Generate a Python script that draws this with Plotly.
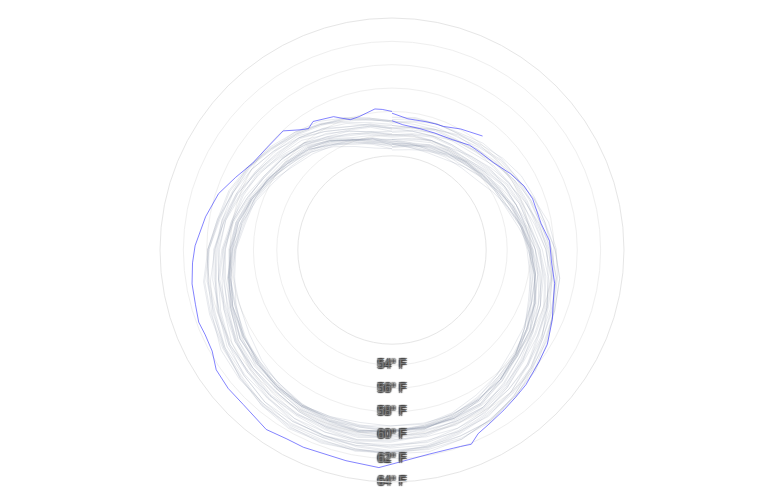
import plotly.graph_objects as go

# ---- data ----
grey_days = [0, 10, 20, 30, 41, 51, 61, 71, 81, 91, 101, 112, 122, 132, 142, 152, 162, 172, 183,
             193, 203, 213, 223, 233, 243, 254, 264, 274, 284, 294, 304, 314, 325, 335, 345, 355, 365]

# band-centre climatology (deg F) at grey_days
climatology = [54.2, 54.25, 54.4, 54.6, 54.85, 55.15, 55.5, 55.95, 56.45, 57.0, 57.5, 58.0, 58.5,
               59.0, 59.5, 60.0, 60.3, 60.5, 60.6, 60.65, 60.65, 60.6, 60.4, 60.15, 59.9, 59.5,
               59.2, 58.8, 58.3, 57.8, 57.3, 56.75, 56.2, 55.6, 55.05, 54.6, 54.2]

grey_years = [1942, 1944, 1946, 1950, 1952, 1954, 1958, 1960, 1962, 1966, 1968, 1970, 1974, 1976,
              1978, 1982, 1984, 1986, 1990, 1992, 1994, 1998, 2000, 2002, 2006, 2008, 2010, 2014,
              2016, 2018, 2020, 2022]

# departures from the band centre for each grey year (deg F)
a1942 = [-1.2,-1.0,-0.9,-1.1,-1.3,-1.2,-1.0,-0.8,-0.9,-1.1,-1.3,-1.4,-1.2,-1.0,-0.9,-1.0,-1.2,-1.1,-0.9,-0.8,-1.0,-1.2,-1.3,-1.1,-1.0,-1.2,-1.4,-1.3,-1.1,-0.9,-1.0,-1.2,-1.1,-0.9,-1.0,-1.2,-1.1]
a1944 = [-1.0,-1.2,-1.3,-1.1,-0.9,-1.0,-1.2,-1.3,-1.1,-1.0,-1.2,-1.1,-0.9,-1.0,-1.2,-1.3,-1.1,-0.9,-1.0,-1.2,-1.3,-1.1,-1.0,-1.2,-1.1,-0.9,-1.0,-1.2,-1.3,-1.1,-1.2,-1.0,-0.9,-1.1,-1.3,-1.2,-1.2]
a1946 = [-1.0,-1.2,-1.4,-1.5,-1.3,-1.1,-1.2,-1.4,-1.3,-1.0,-0.9,-1.1,-1.3,-1.5,-1.4,-1.2,-1.1,-1.3,-1.4,-1.2,-1.0,-1.1,-1.3,-1.2,-1.0,-0.9,-1.1,-1.3,-1.4,-1.2,-1.3,-1.5,-1.4,-1.2,-1.1,-1.3,-1.4]
a1950 = [-1.5,-1.4,-1.2,-1.3,-1.5,-1.6,-1.4,-1.2,-1.1,-1.3,-1.4,-1.2,-1.0,-1.2,-1.4,-1.5,-1.3,-1.2,-1.4,-1.5,-1.3,-1.1,-1.2,-1.4,-1.6,-1.5,-1.3,-1.2,-1.1,-1.3,-1.5,-1.4,-1.2,-1.3,-1.5,-1.6,-1.4]
a1952 = [-1.2,-1.0,-0.8,-0.9,-1.1,-0.9,-0.7,-0.8,-1.0,-1.1,-0.9,-0.8,-1.0,-1.1,-0.9,-0.7,-0.9,-1.1,-1.0,-0.8,-0.9,-1.1,-1.0,-0.8,-0.7,-0.9,-1.1,-1.0,-0.8,-0.9,-1.1,-1.2,-1.0,-0.8,-0.9,-1.1,-1.0]
a1954 = [-1.3,-1.1,-0.9,-0.8,-1.0,-1.2,-1.1,-0.9,-1.0,-1.2,-1.0,-0.8,-0.9,-1.1,-1.2,-1.0,-0.8,-0.9,-1.1,-1.3,-1.2,-1.0,-0.9,-1.0,-1.2,-1.1,-0.9,-0.8,-1.0,-1.1,-0.9,-1.0,-1.2,-1.1,-0.9,-1.0,-1.0]
a1958 = [-0.6,-0.8,-1.0,-0.9,-0.7,-0.6,-0.8,-1.0,-1.1,-0.9,-0.7,-0.8,-1.0,-0.9,-0.7,-0.6,-0.8,-1.0,-0.9,-0.7,-0.8,-1.0,-1.1,-0.9,-0.7,-0.6,-0.8,-0.9,-0.7,-0.8,-1.0,-0.9,-0.7,-0.6,-0.8,-0.9,-0.9]
a1960 = [-1.0,-0.9,-0.7,-0.6,-0.8,-1.0,-0.9,-0.7,-0.8,-1.0,-0.9,-0.7,-0.6,-0.8,-0.9,-0.7,-0.8,-1.0,-0.9,-0.7,-0.6,-0.8,-1.0,-0.9,-0.7,-0.8,-0.9,-0.7,-0.6,-0.8,-1.0,-0.9,-0.7,-0.8,-0.9,-0.7,-0.8]
a1962 = [-1.0,-0.8,-0.7,-0.9,-1.1,-1.0,-0.8,-0.9,-1.1,-1.2,-1.0,-0.9,-0.7,-0.8,-1.0,-1.1,-0.9,-0.8,-1.0,-1.1,-0.9,-0.7,-0.8,-1.0,-1.1,-0.9,-0.8,-1.0,-1.2,-1.1,-0.9,-0.8,-0.9,-1.1,-1.0,-0.8,-1.1]
a1966 = [-0.9,-1.1,-1.2,-1.0,-0.8,-0.9,-1.1,-1.2,-1.0,-0.9,-1.1,-1.3,-1.2,-1.0,-0.9,-1.1,-1.2,-1.0,-0.8,-0.9,-1.1,-1.2,-1.0,-0.9,-1.1,-1.2,-1.0,-0.9,-0.8,-1.0,-1.2,-1.1,-0.9,-1.0,-1.2,-1.1,-0.8]
a1968 = [-0.8,-0.9,-1.1,-1.0,-0.8,-0.7,-0.9,-1.0,-0.8,-0.6,-0.7,-0.9,-1.0,-0.8,-0.7,-0.9,-1.0,-0.8,-0.6,-0.7,-0.9,-1.0,-0.8,-0.7,-0.9,-1.1,-1.0,-0.8,-0.7,-0.9,-1.0,-0.8,-0.6,-0.7,-0.9,-0.8,-0.7]
a1970 = [-0.8,-0.6,-0.5,-0.7,-0.9,-0.8,-0.6,-0.5,-0.7,-0.8,-0.6,-0.5,-0.7,-0.9,-0.8,-0.6,-0.7,-0.9,-0.8,-0.6,-0.5,-0.7,-0.8,-0.6,-0.5,-0.7,-0.9,-0.8,-0.6,-0.7,-0.8,-0.6,-0.5,-0.7,-0.9,-0.8,-0.9]
a1974 = [-0.9,-1.0,-0.8,-0.7,-0.9,-1.1,-1.0,-0.8,-0.7,-0.9,-1.0,-0.8,-0.7,-0.9,-1.1,-1.0,-0.8,-0.9,-1.0,-0.8,-0.7,-0.9,-1.1,-1.0,-0.8,-0.7,-0.9,-1.0,-0.8,-0.9,-1.1,-1.0,-0.8,-0.7,-0.9,-1.0,-0.6]
a1976 = [-0.7,-0.9,-1.1,-1.2,-1.0,-0.9,-1.1,-1.2,-1.0,-0.8,-0.9,-1.1,-1.2,-1.0,-0.9,-1.1,-1.0,-0.8,-0.9,-1.1,-1.2,-1.0,-0.9,-1.1,-1.0,-0.8,-0.9,-1.1,-1.0,-0.8,-0.9,-1.0,-0.8,-0.7,-0.9,-0.8,-0.6]
a1978 = [-0.6,-0.4,-0.3,-0.5,-0.7,-0.6,-0.4,-0.5,-0.7,-0.6,-0.4,-0.3,-0.5,-0.6,-0.4,-0.3,-0.5,-0.7,-0.6,-0.4,-0.3,-0.5,-0.6,-0.4,-0.5,-0.7,-0.6,-0.4,-0.3,-0.5,-0.6,-0.4,-0.3,-0.5,-0.7,-0.5,-0.4]
a1982 = [-0.4,-0.2,-0.3,-0.5,-0.6,-0.4,-0.3,-0.5,-0.6,-0.4,-0.2,-0.3,-0.5,-0.4,-0.2,-0.3,-0.5,-0.6,-0.4,-0.2,-0.3,-0.5,-0.6,-0.4,-0.3,-0.5,-0.4,-0.2,-0.3,-0.5,-0.6,-0.4,-0.2,-0.4,-0.5,-0.3,-0.2]
a1984 = [-0.6,-0.5,-0.3,-0.4,-0.6,-0.5,-0.3,-0.2,-0.4,-0.6,-0.5,-0.3,-0.4,-0.6,-0.5,-0.3,-0.2,-0.4,-0.5,-0.3,-0.4,-0.6,-0.5,-0.3,-0.2,-0.4,-0.5,-0.3,-0.4,-0.6,-0.5,-0.3,-0.4,-0.5,-0.3,-0.4,-0.3]
a1986 = [-0.3,-0.1,0.0,-0.2,-0.4,-0.3,-0.1,-0.2,-0.4,-0.3,-0.1,0.0,-0.2,-0.3,-0.1,-0.2,-0.4,-0.3,-0.1,0.0,-0.2,-0.3,-0.1,-0.2,-0.4,-0.3,-0.1,-0.2,-0.3,-0.1,0.0,-0.2,-0.4,-0.3,-0.1,-0.2,-0.1]
a1990 = [0.0,0.2,0.1,-0.1,-0.2,0.0,0.2,0.1,-0.1,0.0,0.2,0.3,0.1,-0.1,0.0,0.2,0.1,-0.1,-0.2,0.0,0.1,-0.1,0.0,0.2,0.1,-0.1,0.0,0.2,0.3,0.1,-0.1,0.0,0.1,-0.1,0.0,0.2,0.1]
a1992 = [-0.2,-0.1,-0.3,-0.4,-0.2,-0.1,-0.3,-0.5,-0.4,-0.2,-0.3,-0.5,-0.4,-0.2,-0.3,-0.5,-0.6,-0.4,-0.3,-0.5,-0.4,-0.2,-0.3,-0.4,-0.2,-0.1,-0.3,-0.4,-0.2,-0.3,-0.5,-0.4,-0.2,-0.3,-0.4,-0.2,-0.2]
a1994 = [-0.2,0.0,0.1,-0.1,-0.3,-0.2,0.0,-0.1,-0.3,-0.2,0.0,0.1,-0.1,-0.2,0.0,-0.1,-0.3,-0.2,0.0,0.1,-0.1,-0.2,0.0,-0.1,-0.3,-0.2,0.0,-0.1,-0.2,0.0,0.1,-0.1,-0.2,0.0,-0.1,-0.2,0.1]
a1998 = [0.6,0.5,0.3,0.4,0.6,0.7,0.5,0.3,0.4,0.6,0.5,0.3,0.2,0.4,0.5,0.3,0.4,0.6,0.5,0.3,0.4,0.5,0.3,0.2,0.4,0.5,0.3,0.4,0.6,0.5,0.3,0.2,0.4,0.5,0.3,0.4,0.3]
a2000 = [0.1,0.3,0.4,0.2,0.1,0.3,0.2,0.0,0.1,0.3,0.4,0.2,0.1,0.3,0.2,0.0,0.1,0.3,0.4,0.2,0.1,0.2,0.0,0.1,0.3,0.2,0.0,0.1,0.3,0.4,0.2,0.1,0.3,0.2,0.1,0.3,0.3]
a2002 = [0.3,0.5,0.6,0.4,0.3,0.5,0.6,0.4,0.2,0.3,0.5,0.6,0.4,0.3,0.5,0.6,0.4,0.2,0.3,0.5,0.4,0.2,0.3,0.5,0.6,0.4,0.3,0.5,0.4,0.2,0.3,0.5,0.6,0.4,0.3,0.5,0.4]
a2006 = [0.4,0.6,0.7,0.5,0.4,0.6,0.7,0.5,0.3,0.5,0.6,0.4,0.5,0.7,0.6,0.4,0.5,0.7,0.8,0.6,0.4,0.5,0.7,0.6,0.4,0.3,0.5,0.6,0.4,0.5,0.7,0.6,0.4,0.5,0.6,0.4,0.6]
a2008 = [0.4,0.2,0.1,0.3,0.4,0.2,0.1,0.3,0.5,0.4,0.2,0.3,0.5,0.4,0.2,0.1,0.3,0.4,0.2,0.3,0.5,0.4,0.2,0.1,0.3,0.4,0.2,0.3,0.5,0.4,0.2,0.3,0.4,0.2,0.1,0.3,0.4]
a2010 = [0.8,1.0,0.9,0.7,0.8,1.0,0.9,0.7,0.6,0.8,0.9,0.7,0.6,0.8,0.7,0.5,0.6,0.8,0.7,0.5,0.6,0.8,0.7,0.6,0.8,0.9,0.7,0.5,0.6,0.8,0.7,0.6,0.8,0.9,0.7,0.6,0.7]
a2014 = [0.6,0.5,0.7,0.8,0.6,0.5,0.7,0.8,0.6,0.7,0.9,0.8,0.6,0.7,0.9,1.0,0.8,0.7,0.9,0.8,0.6,0.7,0.9,1.0,0.8,0.7,0.9,1.0,0.8,0.9,1.1,1.0,0.8,0.9,1.0,0.8,1.0]
a2016 = [1.3,1.4,1.2,1.1,1.3,1.2,1.0,1.1,1.3,1.2,1.0,0.9,1.1,1.2,1.0,0.9,1.1,1.0,0.8,0.9,1.1,1.0,0.9,1.1,1.2,1.0,0.9,1.1,1.0,0.8,0.9,1.1,1.0,0.9,1.1,1.0,1.0]
a2018 = [1.0,0.8,0.7,0.9,1.0,0.8,0.9,1.1,1.0,0.8,0.7,0.9,1.0,0.8,0.9,1.1,1.0,0.8,0.9,1.0,0.8,0.9,1.1,1.0,0.9,0.8,1.0,1.1,0.9,0.8,1.0,0.9,0.7,0.8,1.0,0.9,0.9]
a2020 = [1.1,1.3,1.2,1.0,1.1,1.3,1.4,1.2,1.0,1.1,1.2,1.0,0.8,0.9,1.1,1.0,0.8,0.9,1.0,0.8,0.9,1.1,1.0,0.8,0.9,1.1,1.2,1.0,0.9,1.1,1.0,0.8,0.9,1.0,0.8,0.9,0.9]
a2022 = [0.9,1.1,1.2,1.0,0.9,1.1,1.0,0.8,0.9,1.1,1.2,1.0,0.9,1.1,1.0,0.9,1.1,1.2,1.0,0.9,1.0,1.2,1.1,0.9,1.0,1.2,1.3,1.1,1.0,1.2,1.1,0.9,1.0,1.2,1.1,1.0,1.0]

grey_anoms = [a1942, a1944, a1946, a1950, a1952, a1954, a1958, a1960, a1962, a1966, a1968, a1970,
              a1974, a1976, a1978, a1982, a1984, a1986, a1990, a1992, a1994, a1998, a2000, a2002,
              a2006, a2008, a2010, a2014, a2016, a2018, a2020, a2022]

# highlighted year 2023 (day of year, deg F)
days_2023 = [0, 5, 13, 21, 29, 37, 43, 50, 58, 65, 71, 81, 88, 96, 103, 111, 115, 123, 129, 137,
             142, 147, 153, 157, 160, 163, 165, 172, 178, 186, 195, 207, 212, 218, 227, 233, 239,
             244, 249, 253, 258, 264, 270, 275, 284, 292, 299, 306, 312, 322, 327, 330, 333, 341,
             347, 351, 358, 361, 365]
temp_2023 = [55.2, 54.9, 54.8, 54.8, 54.9, 55.3, 55.4, 55.6, 56.2, 56.7, 56.95, 57.1, 57.65, 57.85,
             58.35, 58.75, 59.1, 59.7, 59.95, 60.4, 60.6, 60.85, 61.2, 61.5, 62.1, 61.95, 61.9,
             61.9, 62.15, 62.8, 62.6, 62.65, 62.65, 62.9, 62.5, 62.5, 62.35, 61.8, 61.7, 61.8,
             61.6, 61.5, 61.25, 61.0, 60.35, 59.75, 58.9, 58.2, 58.0, 57.95, 57.1, 56.75, 57.05,
             56.6, 55.85, 55.9, 56.3, 56.2, 56.0]

days_2024 = [0, 7, 15, 19, 23, 30, 39]
temp_2024 = [55.85, 55.45, 55.5, 55.55, 55.6, 56.05, 56.6]

label_temps = [54, 56, 58, 60, 62, 64]
label_texts = ["54° F", "56° F", "58° F", "60° F", "62° F", "64° F"]

# ---- figure ----
def to_deg(days):
    return [d * 360.0 / 365.0 for d in days]

fig = go.Figure()
for yr, anom in zip(grey_years, grey_anoms):
    r = [c + a for c, a in zip(climatology, anom)]
    fig.add_trace(go.Scatterpolar(
        r=r, theta=to_deg(grey_days), mode="lines", name=str(yr),
        line=dict(color="rgba(140,150,172,0.2)", width=1),
        hoverinfo="skip", showlegend=False))

blue = "rgba(30,30,255,0.55)"
fig.add_trace(go.Scatterpolar(
    r=temp_2023, theta=to_deg(days_2023), mode="lines", name="2023",
    line=dict(color=blue, width=1), showlegend=False))
fig.add_trace(go.Scatterpolar(
    r=temp_2024, theta=to_deg(days_2024), mode="lines", name="2024",
    line=dict(color=blue, width=1), showlegend=False))

outline = "#444444"
fig.add_trace(go.Scatterpolar(
    r=label_temps, theta=[180] * len(label_temps), mode="text", text=label_texts,
    textposition="middle center",
    textfont=dict(family="Arial, Liberation Sans, sans-serif", size=12, color="#7a7a7a",
                  shadow=f"1px 1px 1px {outline}, -1px -1px 1px {outline}, "
                         f"1px -1px 1px {outline}, -1px 1px 1px {outline}"),
    hoverinfo="skip", showlegend=False))

fig.update_layout(
    width=784, height=500,
    margin=dict(l=0, r=16, t=10, b=26),
    paper_bgcolor="white",
    showlegend=False,
    polar=dict(
        bgcolor="white",
        hole=0.406,
        radialaxis=dict(range=[52.2, 64], tickvals=[54, 56, 58, 60, 62], showticklabels=False,
                        ticks="", showline=False, gridcolor="#efefef", gridwidth=1),
        angularaxis=dict(rotation=90, direction="clockwise", showticklabels=False, ticks="",
                         showgrid=False, showline=True, linecolor="#e6e6e6", linewidth=1),
    ),
)

fig.write_html("out.html")
